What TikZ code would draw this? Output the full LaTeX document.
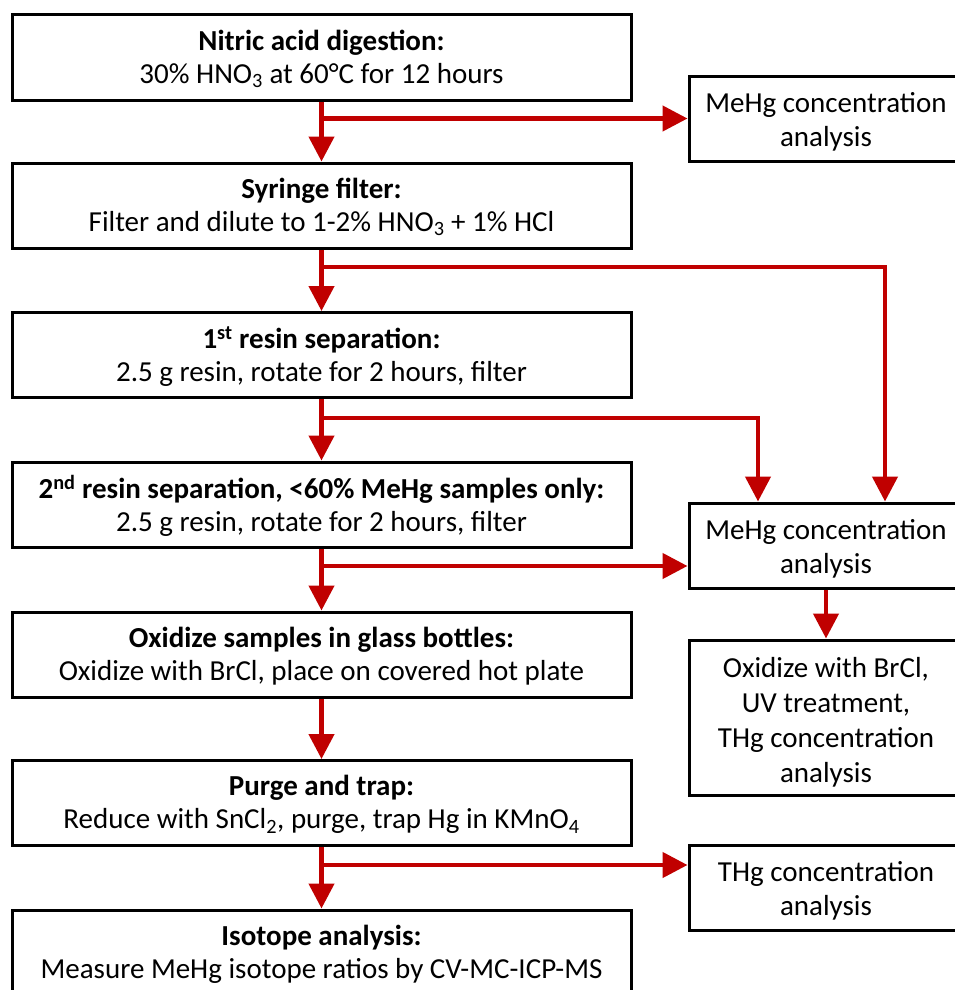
\documentclass[tikz,border=0pt]{standalone}
\usepackage{fontspec}
\setmainfont{Carlito}
\usetikzlibrary{arrows.meta,calc}
\definecolor{arrred}{RGB}{192,0,0}
\begin{document}
\begin{tikzpicture}[x=1pt,y=-1pt,
  mainbox/.style={draw=black,line width=3pt,minimum width=619pt,minimum height=85pt,inner sep=0pt},
  sidebox/.style={draw=black,line width=3pt,minimum width=274pt,inner sep=0pt},
  maintext/.style={inner sep=0pt,align=center,font=\fontsize{29}{33}\selectfont},
  sidetext/.style={inner sep=0pt,align=center,font=\fontsize{29}{34}\selectfont},
  flow/.style={draw=arrred,line width=4.5pt,-{Triangle[length=25pt,width=25pt]}}]
\useasboundingbox (0,0) rectangle (954,990);
\fill[white] (0,0) rectangle (954,990);

\node[mainbox] (b1) at (321.5,57.5) {};
\node[mainbox] (b2) at (321.5,205.5) {};
\node[mainbox] (b3) at (321.5,355) {};
\node[mainbox] (b4) at (321.5,504.5) {};
\node[mainbox] (b5) at (321.5,654.5) {};
\node[mainbox] (b6) at (321.5,803) {};
\node[mainbox] (b7) at (321.5,952.5) {};

\node[maintext] (t1) at ($(b1.center)+(0,1.5)$) {\textbf{Nitric acid digestion:}\\30\% HNO\textsubscript{3} at 60°C for 12 hours};
\node[maintext] (t2) at ($(b2.center)+(0,1.5)$) {\textbf{Syringe filter:}\\Filter and dilute to 1-2\% HNO\textsubscript{3} + 1\% HCl};
\node[maintext] (t3) at ($(b3.center)+(0,1.5)$) {\textbf{1\textsuperscript{st} resin separation:}\\2.5 g resin, rotate for 2 hours, filter};
\node[maintext] (t4) at ($(b4.center)+(0,1.5)$) {\textbf{2\textsuperscript{nd} resin separation, <60\% MeHg samples only:}\\2.5 g resin, rotate for 2 hours, filter};
\node[maintext] (t5) at ($(b5.center)+(0,1.5)$) {\textbf{Oxidize samples in glass bottles:}\\Oxidize with BrCl, place on covered hot plate};
\node[maintext] (t6) at ($(b6.center)+(0,1.5)$) {\textbf{Purge and trap:}\\Reduce with SnCl\textsubscript{2}, purge, trap Hg in KMnO\textsubscript{4}};
\node[maintext] (t7) at ($(b7.center)+(0,1.5)$) {\textbf{Isotope analysis:}\\Measure MeHg isotope ratios by CV-MC-ICP-MS};

\node[sidebox,minimum height=85pt] (s1) at (826,118.5) {};
\node[sidebox,minimum height=85pt] (s2) at (826,545.5) {};
\node[sidebox,minimum height=155pt] (s3) at (826,717.5) {};
\node[sidebox,minimum height=85pt] (s4) at (826,887.5) {};

\node[sidetext] (u1) at ($(s1.center)+(0,3.5)$) {MeHg concentration\\analysis};
\node[sidetext] (u2) at ($(s2.center)+(0,3.5)$) {MeHg concentration\\analysis};
\node[sidetext,font=\fontsize{29}{35}\selectfont] (u3) at ($(s3.center)+(0,4.5)$) {Oxidize with BrCl,\\UV treatment,\\THg concentration\\analysis};
\node[sidetext] (u4) at ($(s4.center)+(0,3.5)$) {THg concentration\\analysis};

\draw[flow] (b1.south) -- (b2.north);
\draw[flow] (b2.south) -- (b3.north);
\draw[flow] (b3.south) -- (b4.north);
\draw[flow] (b4.south) -- (b5.north);
\draw[flow] (b5.south) -- (b6.north);
\draw[flow] (b6.south) -- (b7.north);

\draw[flow] (b1.south |- s1.west) -- (s1.west);
\coordinate (j2) at (321.5,267);
\coordinate (c2) at (885,267);
\draw[flow] (j2) -- (c2) -- (c2 |- s2.north);
\coordinate (j3) at (321.5,418);
\coordinate (c3) at (758,418);
\draw[flow] (j3) -- (c3) -- (c3 |- s2.north);
\coordinate (j4) at (321.5,566);
\draw[flow] (j4) -- (j4 -| s2.west);
\draw[flow] (s2.south) -- (s3.north);
\coordinate (j6) at (321.5,865);
\draw[flow] (j6) -- (j6 -| s4.west);
\end{tikzpicture}
\end{document}
